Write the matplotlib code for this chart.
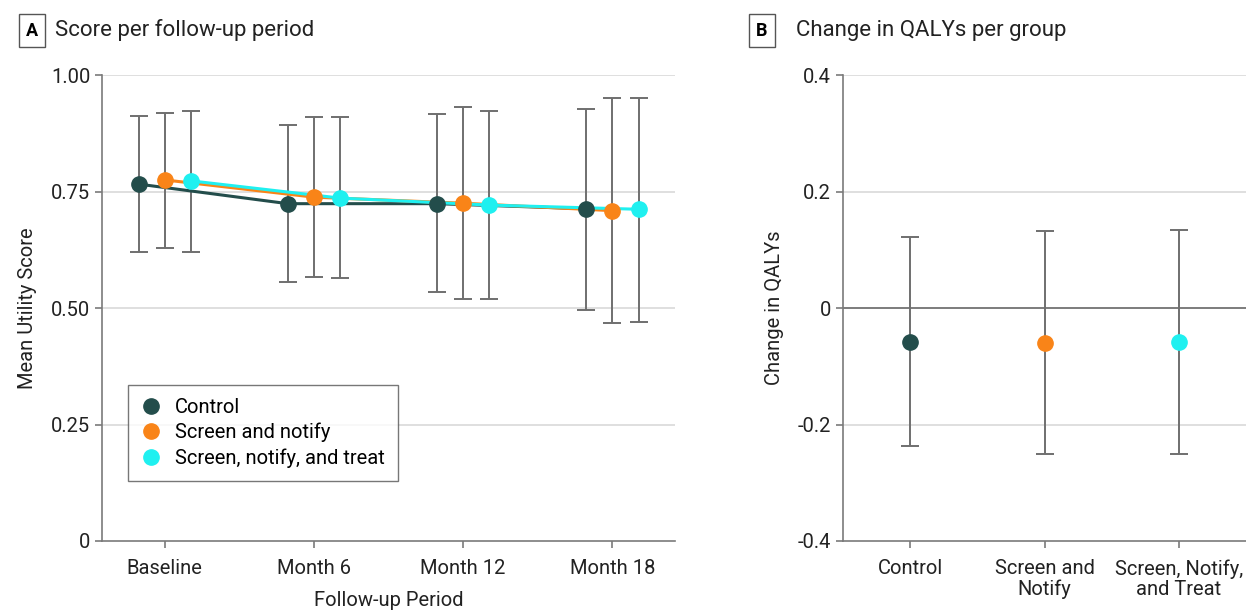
import numpy as np
import matplotlib.pyplot as plt

plt.rcParams['font.family'] = ['Roboto', 'DejaVu Sans']

# panel A data
periods = ['Baseline', 'Month 6', 'Month 12', 'Month 18']
groups_a = ['Control', 'Screen and notify', 'Screen, notify, and treat']
mean_ctrl = [0.766, 0.724, 0.724, 0.713]
lo_ctrl = [0.621, 0.556, 0.534, 0.496]
hi_ctrl = [0.913, 0.892, 0.916, 0.927]
mean_sn = [0.775, 0.738, 0.725, 0.709]
lo_sn = [0.629, 0.566, 0.520, 0.468]
hi_sn = [0.919, 0.909, 0.932, 0.951]
mean_snt = [0.773, 0.736, 0.721, 0.712]
lo_snt = [0.620, 0.564, 0.519, 0.471]
hi_snt = [0.923, 0.909, 0.923, 0.951]

# panel B data
groups_b = ['Control', 'Screen and\nNotify', 'Screen, Notify,\nand Treat']
qaly_mean = [-0.058, -0.060, -0.059]
qaly_lo = [-0.237, -0.251, -0.251]
qaly_hi = [0.122, 0.132, 0.134]

colors = ['#234d4b', '#f98418', '#1ff0f0']
grid_c = '#d9d9d9'
axis_c = '#7a7a7a'
err_c = '#6f6f6f'
txt_c = '#222222'
fs = 14.5

fig = plt.figure(figsize=(12.46, 6.13), dpi=100)
axA = fig.add_axes([0.0819, 0.1175, 0.4599, 0.760])
axB = fig.add_axes([0.6766, 0.1175, 0.3234, 0.760])

x = np.arange(len(periods))
offsets = [-0.175, 0.0, 0.175]
series = [(mean_ctrl, lo_ctrl, hi_ctrl), (mean_sn, lo_sn, hi_sn), (mean_snt, lo_snt, hi_snt)]

for (m, lo, hi), off in zip(series, offsets):
    m = np.array(m); lo = np.array(lo); hi = np.array(hi)
    axA.errorbar(x + off, m, yerr=[m - lo, hi - m], fmt='none', ecolor=err_c,
                 elinewidth=1.4, capsize=6.5, capthick=1.4, zorder=2)
for (m, lo, hi), off, c in zip(series, offsets, colors):
    axA.plot(x + off, m, color=c, lw=2.2, zorder=3)
handles = []
for (m, lo, hi), off, c, lab in zip(series, offsets, colors, groups_a):
    h, = axA.plot(x + off, m, 'o', color=c, ms=11, zorder=4, label=lab)
    handles.append(h)

axA.set_xlim(-0.42, 3.42)
axA.set_ylim(0, 1.0)
axA.set_yticks([0, 0.25, 0.5, 0.75, 1.0])
axA.set_yticklabels(['0', '0.25', '0.50', '0.75', '1.00'])
axA.set_xticks(x)
axA.set_xticklabels(periods)
for v in [0.25, 0.5, 0.75, 1.0]:
    axA.axhline(v, color=grid_c, lw=1.2, zorder=0)
axA.set_ylabel('Mean Utility Score', fontsize=fs, color=txt_c, labelpad=10)
axA.set_xlabel('Follow-up Period', fontsize=fs, color=txt_c, labelpad=9)
leg = axA.legend(handles=handles, loc='lower left', bbox_to_anchor=(0.045, 0.129),
                 fontsize=fs, frameon=True, fancybox=False, handletextpad=0.7,
                 borderpad=0.65, labelspacing=0.3, handlelength=1.0,
                 borderaxespad=0)
leg.get_frame().set_edgecolor('#555555')
leg.get_frame().set_linewidth(1.0)

# panel B
xb = np.arange(len(groups_b))
for i in range(len(groups_b)):
    axB.errorbar(xb[i], qaly_mean[i],
                 yerr=[[qaly_mean[i] - qaly_lo[i]], [qaly_hi[i] - qaly_mean[i]]],
                 fmt='none', ecolor=err_c, elinewidth=1.4, capsize=6.5, capthick=1.4, zorder=2)
    axB.plot(xb[i], qaly_mean[i], 'o', color=colors[i], ms=11, zorder=4)
axB.set_xlim(-0.5, 2.5)
axB.set_ylim(-0.4, 0.4)
axB.set_yticks([-0.4, -0.2, 0, 0.2, 0.4])
axB.set_yticklabels(['-0.4', '-0.2', '0', '0.2', '0.4'])
axB.set_xticks(xb)
axB.set_xticklabels(groups_b, linespacing=1.1)
for v in [-0.2, 0.2, 0.4]:
    axB.axhline(v, color=grid_c, lw=1.2, zorder=0)
axB.axhline(0, color='#666666', lw=1.2, zorder=1)
axB.set_ylabel('Change in QALYs', fontsize=fs, color=txt_c, labelpad=10)

for ax in (axA, axB):
    for s in ['top', 'right']:
        ax.spines[s].set_visible(False)
    for s in ['left', 'bottom']:
        ax.spines[s].set_color(axis_c)
        ax.spines[s].set_linewidth(1.2)
    ax.tick_params(axis='both', colors=axis_c, labelcolor=txt_c, labelsize=fs,
                   length=5, width=1.2)
    ax.tick_params(axis='x', pad=8)

# panel headers
fig.text(0.0257, 0.950, 'A', fontsize=13, fontweight='bold', va='center', ha='center',
         bbox=dict(boxstyle='square,pad=0.4', fc='white', ec='#555555', lw=1.0))
fig.text(0.044, 0.951, 'Score per follow-up period', fontsize=16, va='center', ha='left',
         color=txt_c)
fig.text(0.6115, 0.950, 'B', fontsize=13, fontweight='bold', va='center', ha='center',
         bbox=dict(boxstyle='square,pad=0.4', fc='white', ec='#555555', lw=1.0))
fig.text(0.639, 0.951, 'Change in QALYs per group', fontsize=16, va='center', ha='left',
         color=txt_c)

fig.savefig('out.png', dpi=100)
